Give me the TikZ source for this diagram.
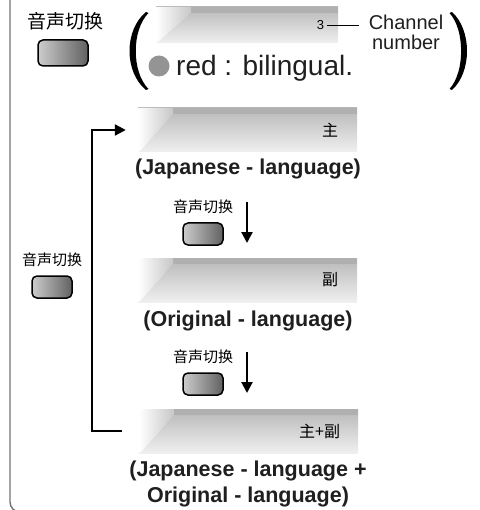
\documentclass[tikz,border=0pt]{standalone}
\usepackage{fontspec}
\setmainfont{Liberation Sans}
\newfontfamily\cjk{Noto Sans CJK SC}
\usetikzlibrary{arrows.meta,positioning,calc}

\begin{document}
\begin{tikzpicture}[
  x=1pt, y=-1pt,
  >={Triangle[length=11pt,width=11pt]},
  lcd/.style={inner sep=0pt, minimum width=219pt, minimum height=44pt,
              top color=black!28, bottom color=black!6,
              path picture={
                \path (path picture bounding box.north west) coordinate (pnw)
                      (path picture bounding box.north east) coordinate (pne)
                      (path picture bounding box.south west) coordinate (psw);
                \fill[black!31] ([xshift=35pt]pnw) rectangle ([yshift=-6pt]pne);
                \shade[left color=white, right color=black!22]
                  (pnw) -- ([xshift=35pt]pnw) -- ([xshift=35pt,yshift=-6pt]pnw)
                  -- ([xshift=3pt,yshift=2pt]psw) -- (psw) -- cycle;
              }},
  lcdtxt/.style={font=\cjk\fontsize{16}{16}\selectfont, inner sep=0pt, anchor=east},
  key/.style={draw=black, line width=1.5pt, rounded corners=5pt,
              left color=black!20, right color=black!62,
              minimum width=40pt, minimum height=22pt, inner sep=0pt},
  keylbl/.style={font=\cjk\fontsize{15}{15}\selectfont, inner sep=0pt},
  lang/.style={font=\bfseries\fontsize{21.5}{26}\selectfont, text=black!88,
               align=center, inner sep=0pt},
  flow/.style={->, line width=2.2pt, draw=black},
  frame/.style={draw=black!55, line width=1.4pt, rounded corners=10pt},
  paren/.style={fill=black}
]
\useasboundingbox (0,0) rectangle (479,510);

% ==================== Frame ====================
\draw[frame] (10,-5) -- (10,512) -- (80,512);

% ==================== Top: key and bilingual indicator ====================
\node[keylbl, font=\cjk\fontsize{19}{19}\selectfont] (keytop) at (65,21) {音声切换};
\node[key, minimum width=50pt, minimum height=26pt] (btntop) at (63,53) {};

% brackets
\fill[paren] (146,12) .. controls (124,30) and (124,72) .. (146,90)
  -- (148.5,89) .. controls (131.5,72) and (131.5,30) .. (148.5,13) -- cycle;
\fill[paren] (452,12) .. controls (472,30) and (472,72) .. (452,90)
  -- (449.5,89) .. controls (465,72) and (465,30) .. (449.5,13) -- cycle;

\node[lcd, minimum width=182pt, minimum height=36pt] (disp0) at (247,25) {};
\node[font=\fontsize{13}{13}\selectfont, inner sep=0pt, anchor=east] (chno)
  at ([xshift=-14pt]disp0.east) {3};
\node[font=\fontsize{20}{20}\selectfont, align=center, inner sep=0pt, text=black!88]
  (chan) at (406,32) {Channel\\number};
\draw[line width=0.9pt] ([xshift=3pt]chno.east) -- ([xshift=-10pt]chno.east -| chan.west);

\node[circle, fill=black!42, minimum size=21pt, inner sep=0pt] (dot) at (159,66) {};
\node[font=\fontsize{28}{28}\selectfont, anchor=west, inner sep=0pt, text=black!88]
  (bil) at (176,68) {red : bilingual.};

% ==================== Sound modes ====================
\node[lcd] (disp1) at (247.5,130) {};
\node[lcdtxt] at ([xshift=-19pt]disp1.east) {主};
\node[lang] (lang1) at (248,169) {(Japanese - language)};

\node[lcd] (disp2) at (247.5,280) {};
\node[lcdtxt] at ([xshift=-19pt]disp2.east) {副};
\node[lang] (lang2) at (248,321) {(Original - language)};

\node[lcd] (disp3) at (248.5,431) {};
\node[lcdtxt] at ([xshift=-18pt]disp3.east) {主+副};
\node[lang] (lang3) at (248,484) {(Japanese - language +\\Original - language)};

% ==================== Switching steps ====================
\node[keylbl] (key1) at (203,207) {音声切换};
\node[key] (btn1) at (203,234) {};
\coordinate (a1s) at (247,202);
\coordinate (a1e) at (247,243);
\draw[flow] (a1s) -- (a1e);

\node[keylbl] (key2) at (203,357) {音声切换};
\node[key] (btn2) at (203,384) {};
\coordinate (a2s) at (247,352);
\coordinate (a2e) at (247,393);
\draw[flow] (a2s) -- (a2e);

% back to the first mode
\node[keylbl] (key3) at (52,260) {音声切换};
\node[key] (btn3) at (52,287) {};
\draw[flow] ([xshift=-17pt]disp3.west) -- ++(-30,0) |- ([xshift=-12pt]disp1.west);

\end{tikzpicture}
\end{document}
